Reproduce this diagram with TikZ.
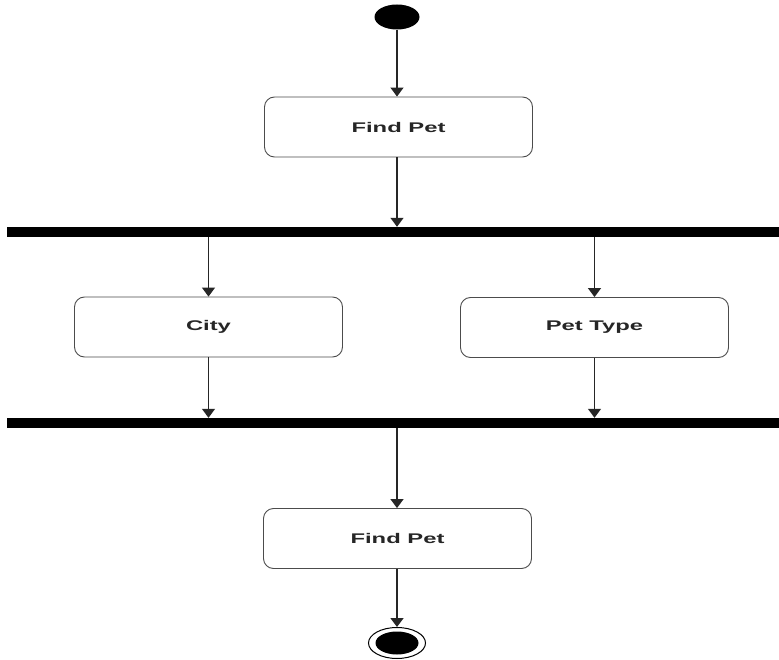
\documentclass[tikz,border=0pt]{standalone}
\usepackage{fontspec}
\setmainfont{Liberation Sans}
\usetikzlibrary{arrows.meta,shapes.geometric}
\newcommand{\wide}[1]{\scalebox{1.7}[1]{#1}}
\tikzset{
  actbox/.style={draw=black!70, line width=0.9pt, rounded corners=10pt, fill=white,
    minimum width=268pt, minimum height=60pt, inner sep=0pt, text=black!85,
    font=\fontsize{14}{16}\selectfont\bfseries},
  forkbar/.style={fill=black, draw=none, minimum width=772pt, minimum height=10pt, inner sep=0pt},
  flow/.style={draw=black!85, line width=1.5pt, -{Triangle[width=13pt,length=9pt]}},
  startnode/.style={ellipse, fill=black, minimum width=45pt, minimum height=25pt, inner sep=0pt},
  endouter/.style={ellipse, draw=black, line width=1pt, fill=white, minimum width=57pt, minimum height=31pt, inner sep=0pt},
  endinner/.style={ellipse, fill=black, minimum width=43pt, minimum height=23pt, inner sep=0pt}
}
\begin{document}
\begin{tikzpicture}[x=1pt,y=-1pt]
\useasboundingbox (0,0) rectangle (779,660);
\node[startnode] (start) at (397,17) {};
\node[actbox] (find1) at (398.5,127) {\wide{Find Pet}};
\node[forkbar] (bar1) at (393,232) {};
\node[actbox] (city) at (208.5,327) {\wide{City}};
\node[actbox] (type) at (594.5,327.5) {\wide{Pet Type}};
\node[forkbar] (bar2) at (393,423) {};
\node[actbox] (find2) at (397.5,538.5) {\wide{Find Pet}};
\node[endouter] (endo) at (397,643) {};
\node[endinner] (endi) at (397,643) {};

\draw[flow] (start.south) -- (start.south |- find1.north);
\draw[flow] (start.south |- find1.south) -- (start.south |- bar1.north);
\draw[flow] (bar1.south -| city.north) -- (city.north);
\draw[flow] (bar1.south -| type.north) -- (type.north);
\draw[flow] (city.south) -- (city.south |- bar2.north);
\draw[flow] (type.south) -- (type.south |- bar2.north);
\draw[flow] (start.south |- bar2.south) -- (start.south |- find2.north);
\draw[flow] (start.south |- find2.south) -- (endo.north);
\end{tikzpicture}
\end{document}
